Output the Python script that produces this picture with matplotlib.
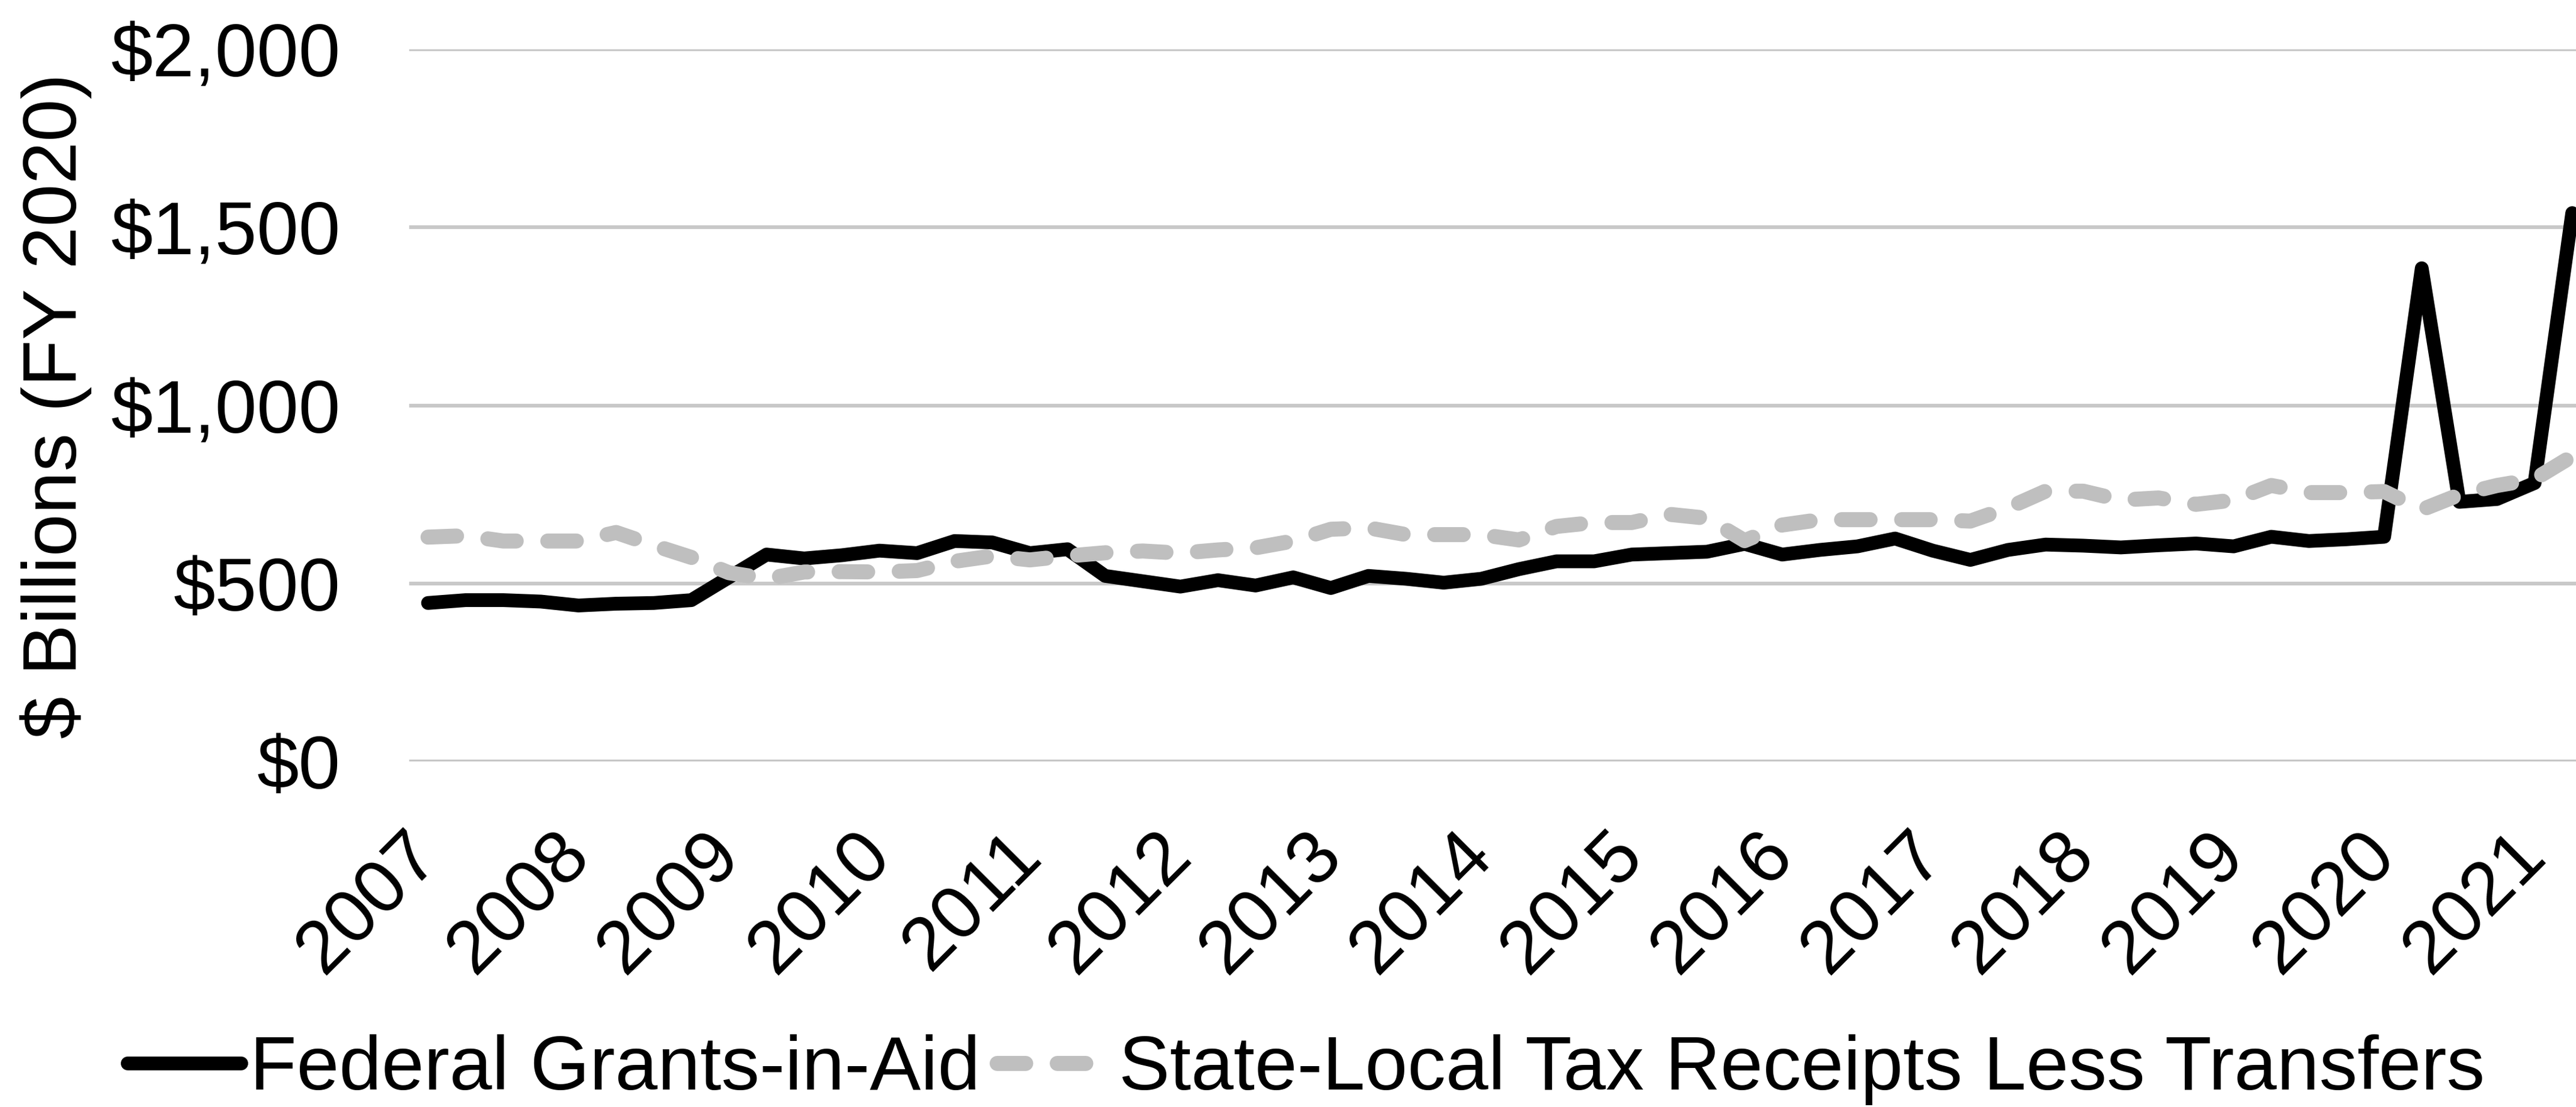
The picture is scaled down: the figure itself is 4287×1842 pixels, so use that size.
"""Federal grants-in-aid vs state-local tax receipts, quarterly 2007-2021."""

import matplotlib.pyplot as plt
import numpy as np

plt.rcParams["font.family"] = ["Liberation Sans", "DejaVu Sans"]

# quarterly values, $ billions (FY 2020), 2007Q1 .. 2021Q2
federal_grants = [
    445, 453, 453, 449, 438, 443, 445, 453, 517, 581,
    570, 579, 592, 585, 619, 615, 585, 596, 521, 506,
    491, 509, 494, 517, 487, 521, 513, 502, 513, 540,
    562, 562, 581, 585, 589, 611, 581, 594, 604, 626,
    592, 566, 594, 609, 606, 601, 607, 612, 604, 631,
    619, 624, 631, 1385, 729, 737, 782, 1540,
]
state_local_tax = [
    630, 634, 619, 619, 619, 643, 607, 573, 530, 513,
    532, 533, 532, 536, 562, 577, 566, 577, 586, 591,
    585, 594, 600, 619, 652, 656, 637, 637, 637, 622,
    660, 671, 671, 694, 683, 620, 664, 679, 679, 679,
    679, 675, 712, 759, 759, 734, 740, 722, 734, 775,
    755, 755, 758, 707, 749, 775, 793, 857,
]
year_labels = [str(y) for y in range(2007, 2022)]
year_ticks = [4 * i for i in range(len(year_labels))]
y_ticks = [0, 500, 1000, 1500, 2000]
y_tick_labels = ["$0", "$500", "$1,000", "$1,500", "$2,000"]

W, H, DPI = 4287, 1842, 300
fig = plt.figure(figsize=(W / DPI, H / DPI), dpi=DPI)
# plot area runs a little past the right edge, as in the source image
ax = fig.add_axes([681 / W, 575 / H, 3631 / W, 1185 / H])

x = np.arange(len(federal_grants))
ax.plot(
    x, federal_grants, color="black", linewidth=5.5,
    solid_capstyle="round", solid_joinstyle="round",
    label="Federal Grants-in-Aid", zorder=3,
)
ax.plot(
    x, state_local_tax, color="#BFBFBF", linewidth=6, dashes=(1.9, 2.1),
    dash_capstyle="round", dash_joinstyle="round",
    label="State-Local Tax Receipts Less Transfers", zorder=4,
)

ax.set_xlim(-0.5, len(federal_grants) - 0.5)
ax.set_ylim(0, 2000)
ax.set_yticks(y_ticks, y_tick_labels)
ax.set_xticks(year_ticks, year_labels)
ax.grid(axis="y", color="#C8C8C8", linewidth=1.5, zorder=0)
ax.set_axisbelow(True)
for spine in ax.spines.values():
    spine.set_visible(False)
ax.tick_params(axis="y", length=0, pad=27.5, labelsize=30)
ax.tick_params(axis="x", length=0, pad=33, labelsize=30)
for lbl in ax.get_xticklabels():
    lbl.set_rotation(45)
    lbl.set_ha("right")
    lbl.set_va("center")
    lbl.set_rotation_mode("anchor")

fig.text(93 / W, 0.5 + (1842 / 2 - 675) / H, "$ Billions (FY 2020)", rotation=90,
         ha="center", va="center", fontsize=30.5)

fig.legend(
    loc="center", bbox_to_anchor=(2174 / W, 62 / H), ncol=2, frameon=False,
    fontsize=30.5, handlelength=1.48, handletextpad=0.12, columnspacing=0.22,
    borderpad=0, borderaxespad=0,
)

fig.savefig("out.png", dpi=DPI)
